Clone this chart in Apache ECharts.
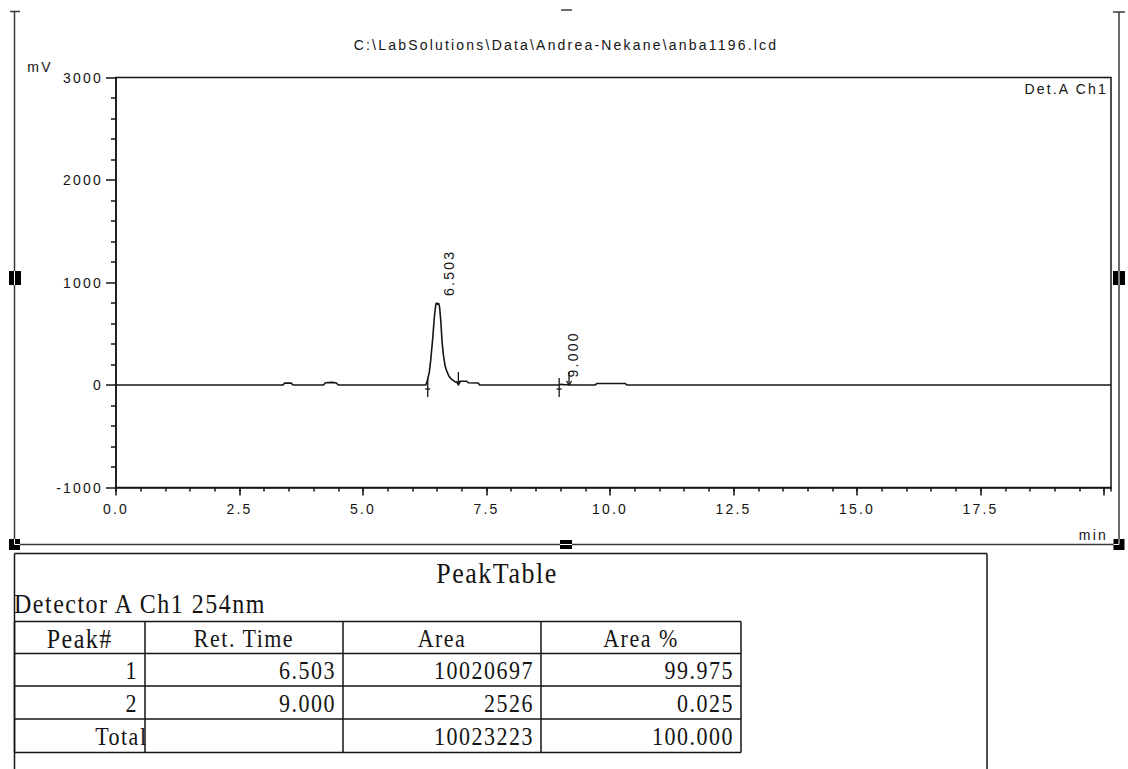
<!DOCTYPE html>
<html>
<head>
<meta charset="utf-8">
<title>anba1196.lcd</title>
<script src="https://cdn.jsdelivr.net/npm/echarts@6/dist/echarts.min.js"></script>
<style>
  html, body { margin: 0; padding: 0; background: #fff; }
  #chart { width: 1128px; height: 769px; }
  /* instrument-report style: wide letter spacing on every label */
  #chart svg text { letter-spacing: 2.2px; }
  #chart svg text[style*="Serif"] { letter-spacing: 1.5px; }
</style>
</head>
<body>
<div id="chart"></div>
<script>
// ---- chromatogram trace (Detector A Ch1, 254 nm) ----
const signalTime = [0, 3.38, 3.41, 3.55, 3.58, 4.20, 4.24, 4.38, 4.46, 4.50,
  6.27, 6.30, 6.34, 6.37, 6.41, 6.445, 6.475, 6.49, 6.503, 6.515, 6.53, 6.55,
  6.575, 6.60, 6.625, 6.66, 6.695, 6.74, 6.795, 6.86, 6.93, 6.96, 7.10, 7.13,
  7.33, 7.36, 8.97, 9.00, 9.06, 9.17, 9.20, 9.70, 9.73, 10.31, 10.34, 20.14];
const signalMv = [0, 0, 18, 18, 0, 0, 22, 26, 20, 0,
  0, 40, 120, 240, 450, 670, 790, 801, 801, 785, 798, 760,
  620, 420, 300, 190, 135, 85, 54, 32, 21, 37, 37, 22,
  20, 0, 0, 6, 4, 2, 0, 0, 14, 14, 0, 0];

// ---- integration results ----
const peakNo = [1, 2];
const retTime = [6.503, 9.000];
const peakApexMv = [801, 6];
const peakStart = [6.31, 8.97];
const peakEnd = [6.93, 9.17];
const peakArea = [10020697, 2526];
const areaPct = [99.975, 0.025];

// ---- axes ----
const xMin = 0, xMax = 20.14, xMajor = 2.5, xMinor = 0.5, xLastLabel = 17.5;
const yMin = -1000, yMax = 3000, yMajor = 1000;

const fileTitle = 'C:\\LabSolutions\\Data\\Andrea-Nekane\\anba1196.lcd';
const channelName = 'Det.A Ch1';
const yUnit = 'mV';
const xUnit = 'min';
const tableTitle = 'PeakTable';
const detectorLine = 'Detector A Ch1 254nm';
const tableHeaders = ['Peak#', 'Ret. Time', 'Area', 'Area %'];
const totalLabel = 'Total';

const INK = '#141414';
const SANS = '14px "Liberation Sans"';
const SERIF = '22px "Liberation Serif"';
const SERIF_L = '24px "Liberation Serif"';

const chart = echarts.init(document.getElementById('chart'), null, { renderer: 'svg', width: 1128, height: 769 });

// ---- graphic pieces: selection frame, texts, peak table ----
const g = [];
function line(x1, y1, x2, y2, w, c) {
  g.push({ type: 'line', silent: true, shape: { x1, y1, x2, y2 }, style: { stroke: c || INK, lineWidth: w || 1.5 } });
}
function rect(x, y, w, h, c) {
  g.push({ type: 'rect', silent: true, shape: { x, y, width: w, height: h }, style: { fill: c || '#000' } });
}
function text(str, x, y, font, align, sy) {
  g.push({ type: 'text', silent: true, x, y, scaleY: sy || 1,
    style: { text: str, font, fill: INK, textAlign: align, align, textVerticalAlign: 'middle', verticalAlign: 'middle' } });
}

// selection frame around the chart object
const FR = '#3a3a3a';
line(14.5, 11.5, 14.5, 544.5, 1.5, FR);
line(10, 11.5, 20, 11.5, 1.5, FR);
line(1119, 12, 1119, 544.5, 1.5, FR);
line(1113, 12, 1125, 12, 1.5, FR);
line(561, 10, 572, 10, 1.5, FR);
line(14.5, 544.5, 1119, 544.5, 1.5, FR);
// handles
rect(9, 539, 11, 11); line(14.5, 539, 14.5, 544.5, 1, '#fff'); line(14.5, 544.5, 20, 544.5, 1, '#fff');
rect(1113.5, 539, 11, 11); line(1119, 539, 1119, 544.5, 1, '#fff'); line(1113.5, 544.5, 1119, 544.5, 1, '#fff');
rect(560, 540, 12, 9); line(560, 544.5, 572, 544.5, 1, '#fff');
rect(9, 271, 12, 14); line(14.5, 271, 14.5, 285, 1, '#fff');
rect(1113, 271, 12, 14); line(1119, 271, 1119, 285, 1, '#fff');

// chart texts
text(fileTitle, 566, 45, SANS, 'center');
text(channelName, 1108, 89, SANS, 'right');
text(yUnit, 40, 67, SANS, 'center');
text(xUnit, 1108, 535, SANS, 'right');

// peak table frame
line(14.5, 553.5, 987, 553.5, 1.5);
line(14.5, 553.5, 14.5, 769, 1.5);
line(987, 553.5, 987, 769, 1.5);
text(tableTitle, 497, 573, '26px "Liberation Serif"', 'center', 1.12);
text(detectorLine, 14, 604, SERIF_L, 'left', 1.12);

// peak table grid
const colX = [14.5, 145, 343, 541, 741];
const rowY = [621.5, 653.5, 686, 719, 752.5];
colX.forEach(x => line(x, rowY[0], x, rowY[rowY.length - 1], 1.5));
rowY.forEach(y => line(colX[0], y, colX[colX.length - 1], y, 1.5));

const totalArea = peakArea.reduce((a, b) => a + b, 0);
const totalPct = areaPct.reduce((a, b) => a + b, 0);
const rows = peakNo.map((n, i) => [String(n), retTime[i].toFixed(3), String(peakArea[i]), areaPct[i].toFixed(3)]);
rows.push([totalLabel, '', String(totalArea), totalPct.toFixed(3)]);

tableHeaders.forEach((h, c) => text(h, (colX[c] + colX[c + 1]) / 2, (rowY[0] + rowY[1]) / 2 + 1, c === 0 ? SERIF_L : SERIF, 'center', 1.18));
rows.forEach((r, ri) => {
  const cy = (rowY[ri + 1] + rowY[ri + 2]) / 2 + 1;
  r.forEach((cell, c) => {
    if (!cell) return;
    const pad = (ri === rows.length - 1 && c === 0) ? -2.5 : 7;
    text(cell, colX[c + 1] - pad, cy, SERIF, 'right', 1.18);
  });
});

const axisText = { fontFamily: 'Liberation Sans', fontSize: 14, color: INK };

chart.setOption({
  animation: false,
  backgroundColor: '#fff',
  grid: { left: 116, top: 77.5, right: 17, bottom: 281.5, show: true, borderColor: INK, borderWidth: 1.5, backgroundColor: 'transparent' },
  xAxis: [{
    type: 'value', min: xMin, max: xMax, interval: xMajor, position: 'bottom',
    axisLine: { show: true, onZero: false, lineStyle: { color: INK, width: 1.5 } },
    axisTick: { show: true, length: 8, lineStyle: { color: INK, width: 1.5 } },
    axisLabel: Object.assign({ margin: 14, showMaxLabel: false,
      formatter: v => (v <= xLastLabel + 1e-6 && Math.abs(v / xMajor - Math.round(v / xMajor)) < 1e-6) ? v.toFixed(1) : '' }, axisText),
    splitLine: { show: false }
  }, {
    type: 'value', min: xMin, max: xMax, interval: xMinor, position: 'bottom', gridIndex: 0,
    axisLine: { show: false, onZero: false },
    axisTick: { show: true, length: 4, lineStyle: { color: INK, width: 1.5 } },
    axisLabel: { show: false },
    splitLine: { show: false }
  }],
  yAxis: {
    type: 'value', min: yMin, max: yMax, interval: yMajor,
    axisLine: { show: true, onZero: false, lineStyle: { color: INK, width: 1.5 } },
    axisTick: { show: true, length: 10, lineStyle: { color: INK, width: 1.5 } },
    minorTick: { show: true, splitNumber: 5, length: 5, lineStyle: { color: INK, width: 1.5 } },
    axisLabel: Object.assign({ margin: 13, formatter: v => String(v) }, axisText),
    splitLine: { show: false }
  },
  series: [{
    type: 'line', name: channelName, xAxisIndex: 0,
    data: signalTime.map((t, i) => [t, signalMv[i]]),
    showSymbol: false, symbol: 'none',
    lineStyle: { color: INK, width: 1.6 },
    silent: true
  }, {
    // peak start marks
    type: 'custom', xAxisIndex: 0, silent: true,
    data: peakStart.map(t => [t, 0]),
    renderItem: (params, api) => {
      const p = api.coord([api.value(0), api.value(1)]);
      const s = { stroke: INK, lineWidth: 1.3 };
      return { type: 'group', children: [
        { type: 'line', shape: { x1: p[0], y1: p[1] - 7, x2: p[0], y2: p[1] + 12 }, style: s },
        { type: 'line', shape: { x1: p[0] - 2.5, y1: p[1] + 4, x2: p[0] + 2.5, y2: p[1] + 4 }, style: s }
      ] };
    }
  }, {
    // peak end marks
    type: 'custom', xAxisIndex: 0, silent: true,
    data: peakEnd.map(t => [t, 0]),
    renderItem: (params, api) => {
      const p = api.coord([api.value(0), api.value(1)]);
      const s = { stroke: INK, lineWidth: 1.3, fill: 'none' };
      return { type: 'group', children: [
        { type: 'line', shape: { x1: p[0], y1: p[1] - 13, x2: p[0], y2: p[1] }, style: s },
        { type: 'polyline', shape: { points: [[p[0] - 2.5, p[1] - 4], [p[0], p[1]], [p[0] + 2.5, p[1] - 4]] }, style: s }
      ] };
    }
  }, {
    // retention time labels
    type: 'custom', xAxisIndex: 0, silent: true,
    data: retTime.map((t, i) => [t, peakApexMv[i]]),
    renderItem: (params, api) => {
      const p = api.coord([api.value(0), api.value(1)]);
      return { type: 'text', x: p[0] + 12, y: p[1] - 7, rotation: Math.PI / 2,
        style: { text: retTime[params.dataIndex].toFixed(3), font: SANS, fill: INK,
          textAlign: 'left', align: 'left', textVerticalAlign: 'middle', verticalAlign: 'middle' } };
    }
  }],
  graphic: { elements: g }
});
</script>
</body>
</html>
